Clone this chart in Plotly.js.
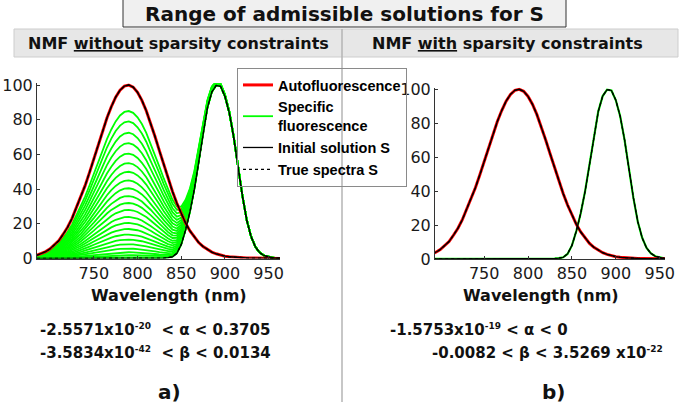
<!DOCTYPE html>
<html>
<head>
<meta charset="utf-8">
<script src="https://cdn.plot.ly/plotly-3.0.1.min.js"></script>
<style>html,body{margin:0;padding:0;background:#fff}#chart{width:694px;height:406px}</style>
</head>
<body>
<div id="chart"></div>
<script>
// ---- data ----
const wavelength = [685,690,695,700,705,710,715,720,725,730,735,740,745,750,755,760,765,770,775,780,
  785,790,795,800,805,810,815,820,825,830,835,840,845,850,855,860,865,870,875,880,
  885,890,895,900,905,910,915,920,925,930,935,940,945,950,955,960,965];
const autofluorescence = [1.9,2.8,4.0,5.6,7.7,10.3,14.0,18.0,23.0,29.0,35.0,42.0,49.5,57.5,65.5,73.5,81.0,87.5,93.0,97.0,
  99.4,100,98.8,95.8,91.2,85.2,78.0,70.3,62.2,54.0,46.0,38.6,31.8,25.7,20.4,15.9,12.2,9.2,6.9,5.1,
  3.7,2.7,1.9,1.35,1.0,0.75,0.55,0.42,0.33,0.26,0.2,0.16,0.12,0.1,0.08,0.06,0.05];
const specificFluorescence = [0,0,0,0,0,0,0,0,0,0,0,0,0,0,0,0,0,0,0,0,
  0,0,0,0,0.01,0.02,0.03,0.06,0.12,0.25,0.5,1.0,3,8,16.5,27,40,56,73,87,
  96,99.8,99.3,93.5,84,70,53,36,22,12.5,6.5,3.3,1.6,0.8,0.4,0.2,0.1];
// height of the autofluorescence hump in each admissible specific-fluorescence curve (panel a), as fraction of 100
const admissibleMix = [0.85,0.79,0.725,0.665,0.605,0.55,0.50,0.45,0.405,0.36,0.32,0.28,0.24,0.205,0.17,0.138,0.109,0.082,0.057,0.036,0.019,0.007,0];
const xTickValues = [750,800,850,900,950];
const yTickValues = [0,20,40,60,80,100];
const legendNames = ['Autofluorescence','Specific<br>fluorescence','Initial solution S','True spectra S'];
const figureTitle = 'Range of admissible solutions for S';
const panelTitles = ['NMF <u>without</u> sparsity constraints','NMF <u>with</u> sparsity constraints'];
const SUP = e => '<sup><span style="font-size:9px">' + e + '</span></sup>';
const alphaRanges = ['-2.5571x10' + SUP('-20') + '&nbsp; &lt; α &lt; 0.3705', '-1.5753x10' + SUP('-19') + ' &lt; α &lt; 0'];
const betaRanges = ['-3.5834x10' + SUP('-42') + '&nbsp; &lt; β &lt; 0.0134', '-0.0082 &lt; β &lt; 3.5269 x10' + SUP('-22')];
const panelLetters = ['a)','b)'];
const xTitle = 'Wavelength (nm)';

// ---- traces ----
const RED = '#ff0000', GREEN = '#00ff00';
const traces = [];
// panel a: family of admissible specific fluorescence spectra
admissibleMix.forEach((k, i) => {
  traces.push({
    x: wavelength, y: specificFluorescence.map((v, j) => v + k * autofluorescence[j]),
    xaxis: 'x', yaxis: 'y', mode: 'lines', line: {color: GREEN, width: 1.8},
    name: legendNames[1], legendgroup: 'spec', showlegend: i === 0, legendrank: 2, hoverinfo: 'skip'
  });
});
// panel b: specific fluorescence
traces.push({x: wavelength, y: specificFluorescence, xaxis: 'x2', yaxis: 'y2', mode: 'lines',
  line: {color: GREEN, width: 2.2}, name: legendNames[1], legendgroup: 'spec', showlegend: false});
// autofluorescence in both panels
[['x','y',true],['x2','y2',false]].forEach(([xa, ya, sl]) => {
  traces.push({x: wavelength, y: autofluorescence, xaxis: xa, yaxis: ya, mode: 'lines',
    line: {color: RED, width: 3}, name: legendNames[0], legendgroup: 'auto', showlegend: sl, legendrank: 1});
});
// initial solution (black solid) and true spectra (black dotted)
[['x','y'],['x2','y2']].forEach(([xa, ya], p) => {
  [autofluorescence, specificFluorescence].forEach((arr, q) => {
    traces.push({x: wavelength, y: arr, xaxis: xa, yaxis: ya, mode: 'lines',
      line: {color: '#000', width: 1.3}, name: legendNames[2], legendgroup: 'init',
      showlegend: p === 0 && q === 0, legendrank: 3});
  });
});
[['x','y'],['x2','y2']].forEach(([xa, ya], p) => {
  [autofluorescence, specificFluorescence].forEach((arr, q) => {
    traces.push({x: wavelength, y: arr, xaxis: xa, yaxis: ya, mode: 'lines',
      line: {color: '#000', width: 1.3, dash: 'dot'}, name: legendNames[3], legendgroup: 'true',
      showlegend: p === 0 && q === 0, legendrank: 4});
  });
});

// ---- layout ----
const W = 694, H = 406;
const px = x => x / W, py = y => 1 - y / H;
const FONT = 'DejaVu Sans, Arial, sans-serif';
const axisCommon = {
  showline: true, linecolor: '#333', linewidth: 1, ticks: 'inside', ticklen: 3, tickcolor: '#333',
  showgrid: false, zeroline: false, tickfont: {family: FONT, size: 16, color: '#1a1a1a'}, fixedrange: true
};
const annText = (text, x, y, size, anchor) => ({
  text: '<b>' + text + '</b>', x: px(x), y: py(y), xref: 'paper', yref: 'paper', showarrow: false,
  xanchor: anchor || 'center', yanchor: 'middle', font: {family: FONT, size: size, color: '#111'}
});
const layout = {
  width: W, height: H, margin: {l: 0, r: 0, t: 0, b: 0},
  paper_bgcolor: '#ffffff', plot_bgcolor: 'rgba(0,0,0,0)',
  font: {family: FONT, color: '#111'},
  showlegend: true,
  legend: {
    x: px(237), y: py(68), xanchor: 'left', yanchor: 'top', bgcolor: 'rgba(255,255,255,0)',
    bordercolor: '#8a8a8a', borderwidth: 1, tracegroupgap: 0, itemwidth: 30,
    font: {family: 'Liberation Sans, Arial, sans-serif', size: 14.5, color: '#000', weight: 'bold'}
  },
  xaxis: Object.assign({}, axisCommon, {domain: [px(37), px(280)], range: [685, 963], anchor: 'y', tickvals: xTickValues}),
  yaxis: Object.assign({}, axisCommon, {domain: [py(258.5), py(83.3)], range: [0, 101], anchor: 'x', tickvals: yTickValues}),
  xaxis2: Object.assign({}, axisCommon, {domain: [px(435), px(665)], range: [694, 956], anchor: 'y2', tickvals: xTickValues}),
  yaxis2: Object.assign({}, axisCommon, {domain: [py(259), py(87.6)], range: [0, 101], anchor: 'x2', tickvals: yTickValues}),
  shapes: [
    {type: 'rect', xref: 'paper', yref: 'paper', x0: px(14), x1: px(678), y0: py(57), y1: py(29),
      fillcolor: '#e7e7e7', line: {color: '#cdcdcd', width: 1}, layer: 'below'},
    {type: 'rect', xref: 'paper', yref: 'paper', x0: px(123), x1: px(566), y0: py(27), y1: py(-2),
      fillcolor: '#f0f0f0', line: {color: '#333', width: 1}, layer: 'below'},
    {type: 'line', xref: 'paper', yref: 'paper', x0: px(342), x1: px(342), y0: py(29), y1: py(402),
      line: {color: '#b4b4b4', width: 1.5}, layer: 'above'}
  ],
  annotations: [
    annText(figureTitle, 344.5, 14, 20),
    annText(panelTitles[0], 178.5, 43, 16),
    annText(panelTitles[1], 507.5, 43, 16),
    annText(xTitle, 169, 295, 16),
    annText(xTitle, 541, 295, 16),
    annText(alphaRanges[0], 38, 330, 15, 'left'),
    annText(betaRanges[0], 38, 353, 15, 'left'),
    annText(alphaRanges[1], 388, 330, 15, 'left'),
    annText(betaRanges[1], 430, 353, 15, 'left'),
    annText(panelLetters[0], 169, 392, 20),
    annText(panelLetters[1], 553, 392, 20)
  ]
};
Plotly.newPlot('chart', traces, layout, {displayModeBar: false, staticPlot: true});
</script>
</body>
</html>
